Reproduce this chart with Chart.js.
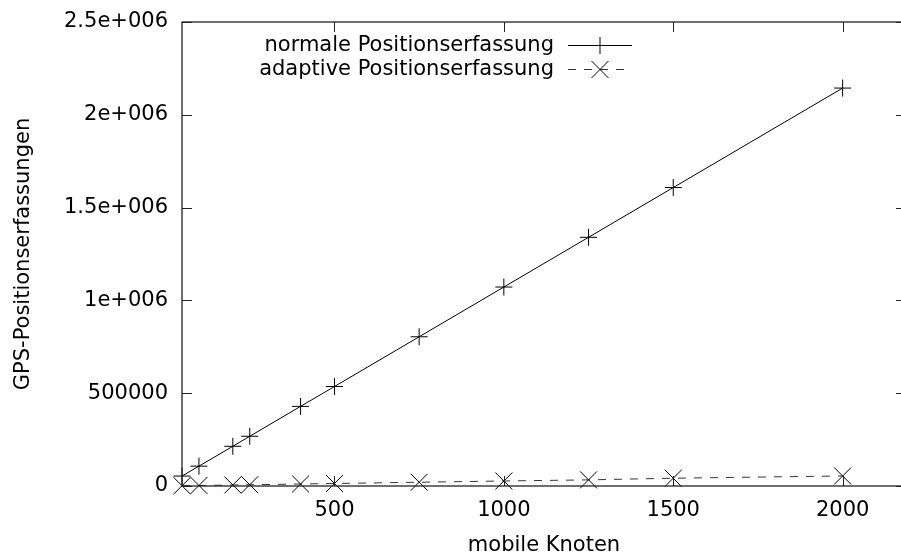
<!DOCTYPE html>
<html>
<head>
<meta charset="utf-8">
<script src="https://cdn.jsdelivr.net/npm/chart.js@4/dist/chart.umd.min.js"></script>
<style>
html, body { margin: 0; padding: 0; background: #fff; overflow: hidden; }
#outer { width: 901px; height: 557px; overflow: hidden; position: relative; }
#wrap { width: 919px; height: 557px; position: absolute; left: 0; top: 0; }
canvas { display: block; }
</style>
</head>
<body>
<div id="outer"><div id="wrap"><canvas id="c"></canvas></div></div>
<script>
const xValues = [50, 100, 200, 250, 400, 500, 750, 1000, 1250, 1500, 2000];
const normalValues = [53600, 107000, 214000, 268000, 429000, 536000, 804000, 1072000, 1340000, 1608000, 2144000];
const adaptiveValues = [1400, 2700, 5400, 6800, 10800, 13500, 20300, 27000, 33000, 42000, 54000];
const seriesLabels = ['normale Positionserfassung', 'adaptive Positionserfassung'];
const xTicks = [500, 1000, 1500, 2000];
const xTickLabels = ['500', '1000', '1500', '2000'];
const yTickValues = [0, 500000, 1000000, 1500000, 2000000, 2500000];
const yTickLabels = ['0', '500000', '1e+006', '1.5e+006', '2e+006', '2.5e+006'];
const xTitle = 'mobile Knoten';
const yTitle = 'GPS-Positionserfassungen';
const xMin = 50;
const xMax = 2187;

const FONT = '"DejaVu Sans", "Liberation Sans", sans-serif';
const FS = 21;

function drawMarker(ctx, style, r, x, y) {
  ctx.beginPath();
  if (style === 'cross') {
    ctx.moveTo(x - r, y); ctx.lineTo(x + r, y);
    ctx.moveTo(x, y - r); ctx.lineTo(x, y + r);
  } else {
    const d = r * Math.SQRT1_2;
    ctx.moveTo(x - d, y - d); ctx.lineTo(x + d, y + d);
    ctx.moveTo(x - d, y + d); ctx.lineTo(x + d, y - d);
  }
  ctx.stroke();
}

const framePlugin = {
  id: 'frame',
  afterDraw(chart) {
    const ctx = chart.ctx;
    const a = chart.chartArea;
    const xs = chart.scales.x, ys = chart.scales.y;
    ctx.save();
    ctx.setLineDash([]);
    ctx.strokeStyle = '#222';
    ctx.lineWidth = 1.3;
    ctx.strokeRect(a.left, a.top, a.right - a.left, a.bottom - a.top);
    ctx.lineWidth = 1;
    const tl = 10;
    ctx.beginPath();
    xTicks.forEach(v => {
      const px = Math.round(xs.getPixelForValue(v)) + 0.5;
      ctx.moveTo(px, a.bottom); ctx.lineTo(px, a.bottom - tl);
      ctx.moveTo(px, a.top); ctx.lineTo(px, a.top + tl);
    });
    yTickValues.forEach(v => {
      const py = Math.round(ys.getPixelForValue(v)) + 0.5;
      ctx.moveTo(a.left, py); ctx.lineTo(a.left + tl, py);
      ctx.moveTo(a.right, py); ctx.lineTo(a.right - tl, py);
    });
    ctx.stroke();

    // legend
    ctx.font = FS + 'px ' + FONT;
    ctx.fillStyle = '#000';
    ctx.textAlign = 'right';
    ctx.textBaseline = 'middle';
    const rows = [45, 69];
    chart.data.datasets.forEach((ds, i) => {
      const y = rows[i];
      ctx.fillText(ds.label, 554, y + 1);
      ctx.strokeStyle = ds.borderColor;
      ctx.lineWidth = ds.borderWidth;
      ctx.setLineDash(ds.borderDash || []);
      ctx.beginPath();
      ctx.moveTo(568, y + 0.5); ctx.lineTo(632, y + 0.5);
      ctx.stroke();
      ctx.setLineDash([]);
      ctx.strokeStyle = ds.pointBorderColor;
      ctx.lineWidth = 1;
      drawMarker(ctx, ds.pointStyle, ds.pointRadius, 600, y + 0.5);
    });
    ctx.restore();
  }
};

new Chart(document.getElementById('c'), {
  type: 'line',
  data: {
    datasets: [
      {
        label: seriesLabels[0],
        data: xValues.map((x, i) => ({ x: x, y: normalValues[i] })),
        borderColor: '#000',
        borderWidth: 1,
        pointStyle: 'cross',
        pointRadius: 8.5,
        pointBorderColor: '#000',
        pointBorderWidth: 1,
        pointBackgroundColor: '#000',
        tension: 0,
        clip: false
      },
      {
        label: seriesLabels[1],
        data: xValues.map((x, i) => ({ x: x, y: adaptiveValues[i] })),
        borderColor: '#333',
        borderWidth: 1,
        borderDash: [8, 8],
        pointStyle: 'crossRot',
        pointRadius: 12,
        pointBorderColor: '#000',
        pointBorderWidth: 1,
        pointBackgroundColor: '#000',
        tension: 0,
        clip: false
      }
    ]
  },
  options: {
    responsive: true,
    maintainAspectRatio: false,
    animation: false,
    devicePixelRatio: 1,
    layout: { padding: { top: 22, right: 3, left: 0, bottom: 0 } },
    plugins: { legend: { display: false }, tooltip: { enabled: false } },
    scales: {
      x: {
        type: 'linear',
        min: xMin,
        max: xMax,
        afterBuildTicks: (s) => { s.ticks = xTicks.map(v => ({ value: v })); },
        afterFit: (s) => { s.height = 71; s.paddingLeft = 0; s.paddingRight = 0; s.paddingTop = 0; s.paddingBottom = 0; },
        grid: { display: false, drawTicks: false },
        border: { display: false },
        ticks: {
          color: '#000', font: { family: FONT, size: FS }, padding: 12, maxRotation: 0, autoSkip: false,
          callback: (v) => { const i = xTicks.indexOf(v); return i >= 0 ? xTickLabels[i] : ''; }
        },
        title: { display: true, text: xTitle, color: '#000', font: { family: FONT, size: FS }, padding: { top: 0, bottom: -1 } }
      },
      y: {
        type: 'linear',
        min: 0,
        max: 2500000,
        afterBuildTicks: (s) => { s.ticks = yTickValues.map(v => ({ value: v })); },
        afterFit: (s) => { s.width = 182; s.paddingLeft = 0; s.paddingRight = 0; s.paddingTop = 0; s.paddingBottom = 0; },
        grid: { display: false, drawTicks: false },
        border: { display: false },
        ticks: {
          color: '#000', font: { family: FONT, size: FS }, padding: 14, autoSkip: false,
          callback: (v) => { const i = yTickValues.indexOf(v); return i >= 0 ? yTickLabels[i] : ''; }
        },
        title: { display: true, text: yTitle, color: '#000', font: { family: FONT, size: FS }, padding: { top: 11, bottom: 0 } }
      }
    }
  },
  plugins: [framePlugin]
});
</script>
</body>
</html>
